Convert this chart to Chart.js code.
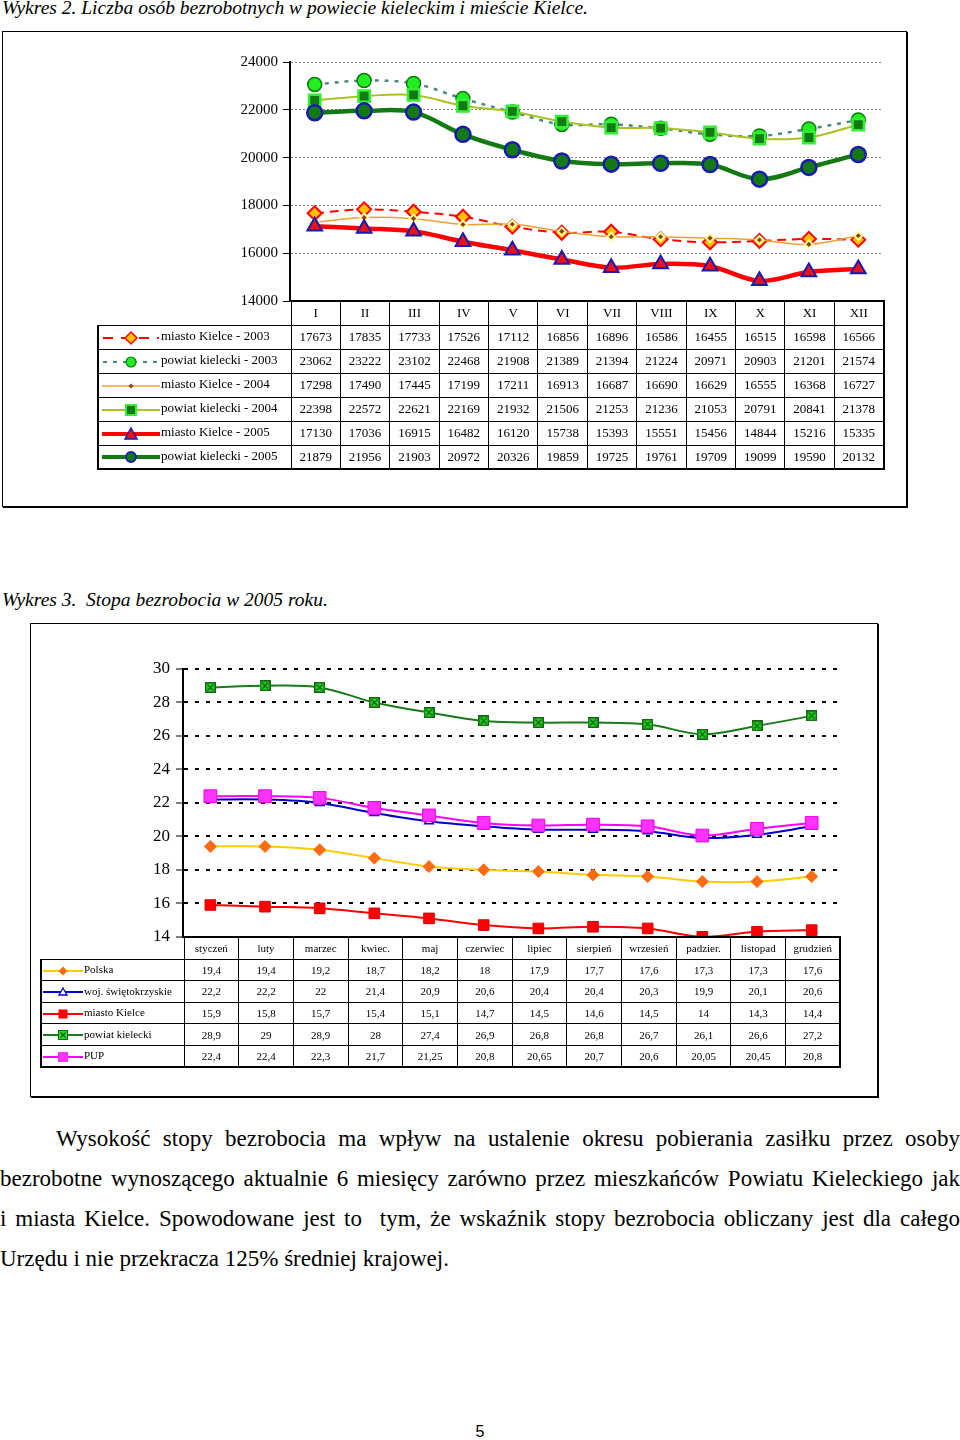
<!DOCTYPE html>
<html lang="pl">
<head>
<meta charset="utf-8">
<title>Wykres 2 i 3</title>
<script src="https://cdn.jsdelivr.net/npm/chart.js@4.4.1/dist/chart.umd.min.js"></script>
<style>
  body { margin: 0; background: #fff; color: #000; font-family: "Liberation Serif", "Times New Roman", serif; }
  #page { position: relative; width: 960px; height: 1440px; overflow: hidden; }
  .abs { position: absolute; }
  .caption { font-style: italic; font-size: 19.5px; line-height: 20px; white-space: nowrap; }
  .frame { border: 1px solid #000; box-shadow: 1px 1px 0 #000; box-sizing: border-box; }
  table.data { border-collapse: collapse; table-layout: fixed; }
  table.data td { border: 1px solid #000; padding: 0; text-align: center; white-space: nowrap; overflow: hidden; background: #fff; }
  table.data td.blank { border: none; background: transparent; }
  table.data td.leg { text-align: left; border-left-width: 2px; }
  table.data td:last-child { border-right-width: 2px; }
  table.data tr:last-child td { border-bottom-width: 2px; }
  table.data tr.head td { border-top-width: 2px; }
  table.data svg { vertical-align: middle; }
  #t1 { left: 97px; top: 300px; font-size: 13px; }
  #t1 tr { height: 24px; }
  #t1 td.leg { padding-left: 2px; }
  #t2 { left: 40px; top: 936px; font-size: 11px; }
  #t2 tr { height: 21.6px; }
  #t2 tr.head { height: 22px; }
  #para { left: 0; top: 1119px; width: 960px; font-size: 23px; }
  #para .ln { height: 40px; line-height: 40px; text-align: justify; text-align-last: justify; }
  #para .ln.last { text-align-last: left; }
  #pageno { left: 0; width: 960px; top: 1423px; text-align: center; font: 16px/18px "Liberation Sans", Arial, sans-serif; }
</style>
</head>
<body>
<div id="page">
  <div class="abs caption" style="left:2px; top:-2px;">Wykres 2. Liczba osób bezrobotnych w powiecie kieleckim i mieście Kielce.</div>
  <div class="abs frame" style="left:2px; top:31px; width:905px; height:476px;"></div>
  <canvas id="chart1" class="abs" width="700" height="270" style="left:200px; top:45px; width:700px; height:270px;"></canvas>
  <table id="t1" class="abs data"></table>

  <div class="abs caption" style="left:2px; top:590px;">Wykres 3.&nbsp; Stopa bezrobocia w 2005 roku.</div>
  <div class="abs frame" style="left:30px; top:623px; width:848px; height:474px;"></div>
  <canvas id="chart2" class="abs" width="760" height="303" style="left:100px; top:650px; width:760px; height:303px;"></canvas>
  <table id="t2" class="abs data"></table>

  <div id="para" class="abs">
    <div class="ln" style="text-indent:56px;">Wysokość stopy bezrobocia ma wpływ na ustalenie okresu pobierania zasiłku przez osoby</div>
    <div class="ln">bezrobotne wynoszącego aktualnie 6 miesięcy zarówno przez mieszkańców Powiatu Kieleckiego jak</div>
    <div class="ln">i miasta Kielce. Spowodowane jest to&nbsp; tym, że wskaźnik stopy bezrobocia obliczany jest dla całego</div>
    <div class="ln last">Urzędu i nie przekracza 125% średniej krajowej.</div>
  </div>
  <div id="pageno" class="abs">5</div>
</div>

<script>
// --- Wykres 2: liczba bezrobotnych ---
const months = ['I', 'II', 'III', 'IV', 'V', 'VI', 'VII', 'VIII', 'IX', 'X', 'XI', 'XII'];
const yTicks1 = [14000, 16000, 18000, 20000, 22000, 24000];
const kielce2003 = [17673, 17835, 17733, 17526, 17112, 16856, 16896, 16586, 16455, 16515, 16598, 16566];
const powiat2003 = [23062, 23222, 23102, 22468, 21908, 21389, 21394, 21224, 20971, 20903, 21201, 21574];
const kielce2004 = [17298, 17490, 17445, 17199, 17211, 16913, 16687, 16690, 16629, 16555, 16368, 16727];
const powiat2004 = [22398, 22572, 22621, 22169, 21932, 21506, 21253, 21236, 21053, 20791, 20841, 21378];
const kielce2005 = [17130, 17036, 16915, 16482, 16120, 15738, 15393, 15551, 15456, 14844, 15216, 15335];
const powiat2005 = [21879, 21956, 21903, 20972, 20326, 19859, 19725, 19761, 19709, 19099, 19590, 20132];
const names1 = ['miasto Kielce - 2003', 'powiat kielecki - 2003', 'miasto Kielce - 2004',
                'powiat kielecki - 2004', 'miasto Kielce - 2005', 'powiat kielecki - 2005'];

// --- Wykres 3: stopa bezrobocia 2005 ---
const months2 = ['styczeń', 'luty', 'marzec', 'kwiec.', 'maj', 'czerwiec', 'lipiec', 'sierpień',
                 'wrzesień', 'padzier.', 'listopad', 'grudzień'];
const yTicks2 = [14, 16, 18, 20, 22, 24, 26, 28, 30];
const polska = [19.4, 19.4, 19.2, 18.7, 18.2, 18, 17.9, 17.7, 17.6, 17.3, 17.3, 17.6];
const wojSwk = [22.2, 22.2, 22, 21.4, 20.9, 20.6, 20.4, 20.4, 20.3, 19.9, 20.1, 20.6];
const kielce = [15.9, 15.8, 15.7, 15.4, 15.1, 14.7, 14.5, 14.6, 14.5, 14, 14.3, 14.4];
const powiat = [28.9, 29, 28.9, 28, 27.4, 26.9, 26.8, 26.8, 26.7, 26.1, 26.6, 27.2];
const pup = [22.4, 22.4, 22.3, 21.7, 21.25, 20.8, 20.65, 20.7, 20.6, 20.05, 20.45, 20.8];
const names2 = ['Polska', 'woj. świętokrzyskie', 'miasto Kielce', 'powiat kielecki', 'PUP'];

// marker: green square with a dark cross
function crossSquare() {
  const c = document.createElement('canvas');
  c.width = 11; c.height = 11;
  const g = c.getContext('2d');
  g.fillStyle = '#22dd22';
  g.fillRect(0, 0, 11, 11);
  g.strokeStyle = '#146414';
  g.lineWidth = 1.5;
  g.strokeRect(0.75, 0.75, 9.5, 9.5);
  g.beginPath();
  g.moveTo(2.5, 2.5); g.lineTo(8.5, 8.5);
  g.moveTo(8.5, 2.5); g.lineTo(2.5, 8.5);
  g.stroke();
  return c;
}

const style1 = [
  {borderColor: '#ff0000', borderWidth: 2, borderDash: [9, 6], pointStyle: 'rectRot', pointRadius: 7,
   pointBackgroundColor: '#ffc000', pointBorderColor: '#ff0000', pointBorderWidth: 2},
  {borderColor: '#4d8585', borderWidth: 2.5, borderDash: [4, 6], pointStyle: 'circle', pointRadius: 7,
   pointBackgroundColor: '#22ee22', pointBorderColor: '#0a7a0a', pointBorderWidth: 1.5},
  {borderColor: '#f0a030', borderWidth: 1.5, pointStyle: 'rectRot', pointRadius: 4,
   pointBackgroundColor: '#8b4513', pointBorderColor: '#ffffa0', pointBorderWidth: 2},
  {borderColor: '#a8c420', borderWidth: 2, pointStyle: 'rect', pointRadius: 8,
   pointBackgroundColor: '#137a13', pointBorderColor: '#33ee33', pointBorderWidth: 2.5},
  {borderColor: '#ff0000', borderWidth: 4.5, pointStyle: 'triangle', pointRadius: 8.5,
   pointBackgroundColor: '#ee1111', pointBorderColor: '#1a1ab0', pointBorderWidth: 2},
  {borderColor: '#137a13', borderWidth: 4.5, pointStyle: 'circle', pointRadius: 7.5,
   pointBackgroundColor: '#137a13', pointBorderColor: '#1a1ab0', pointBorderWidth: 2.5}
];

const style2 = [
  {borderColor: '#ffcc00', borderWidth: 2, pointStyle: 'rectRot', pointRadius: 6,
   pointBackgroundColor: '#ff6a13', pointBorderColor: '#ff6a13', pointBorderWidth: 1},
  {borderColor: '#0000cc', borderWidth: 2, pointStyle: 'triangle', pointRadius: 5,
   pointBackgroundColor: '#ffffff', pointBorderColor: '#0000cc', pointBorderWidth: 1.5},
  {borderColor: '#ff0000', borderWidth: 2, pointStyle: 'rect', pointRadius: 7.5,
   pointBackgroundColor: '#ff0000', pointBorderColor: '#dd0000', pointBorderWidth: 1},
  {borderColor: '#1a7a1a', borderWidth: 2, pointStyle: crossSquare(), pointRadius: 6},
  {borderColor: '#ff00ff', borderWidth: 2, pointStyle: 'rect', pointRadius: 9,
   pointBackgroundColor: '#ff33ff', pointBorderColor: '#ee00ee', pointBorderWidth: 1}
];

// legend swatches for the table rows
const swatch1 = [
  '<svg width="60" height="16"><line x1="2" y1="8" x2="58" y2="8" stroke="#f00" stroke-width="2" stroke-dasharray="10 8"/><path d="M30 2L36 8L30 14L24 8Z" fill="#ffc000" stroke="#f00" stroke-width="1.5"/></svg>',
  '<svg width="60" height="16"><line x1="2" y1="8" x2="58" y2="8" stroke="#4d8585" stroke-width="2" stroke-dasharray="4 6"/><circle cx="30" cy="8" r="5" fill="#22ee22" stroke="#0a7a0a" stroke-width="1.2"/></svg>',
  '<svg width="60" height="16"><line x1="1" y1="8" x2="59" y2="8" stroke="#f0a030" stroke-width="1.5"/><path d="M30 5.5L32.5 8L30 10.5L27.5 8Z" fill="#8b4513"/></svg>',
  '<svg width="60" height="16"><line x1="1" y1="8" x2="59" y2="8" stroke="#a8c420" stroke-width="2"/><rect x="25" y="3" width="10" height="10" fill="#137a13" stroke="#33ee33" stroke-width="2"/></svg>',
  '<svg width="60" height="16"><line x1="1" y1="8" x2="59" y2="8" stroke="#f00" stroke-width="4"/><path d="M30 2L36 13L24 13Z" fill="#ee1111" stroke="#1a1ab0" stroke-width="1.5"/></svg>',
  '<svg width="60" height="16"><line x1="1" y1="8" x2="59" y2="8" stroke="#137a13" stroke-width="4"/><circle cx="30" cy="8" r="5" fill="#137a13" stroke="#1a1ab0" stroke-width="1.8"/></svg>'
];
const swatch2 = [
  '<svg width="42" height="12"><line x1="1" y1="6" x2="41" y2="6" stroke="#ffcc00" stroke-width="2"/><path d="M21 1.5L25.5 6L21 10.5L16.5 6Z" fill="#ff6a13"/></svg>',
  '<svg width="42" height="12"><line x1="1" y1="6" x2="41" y2="6" stroke="#0000cc" stroke-width="2"/><path d="M21 2L25 9L17 9Z" fill="#fff" stroke="#0000cc" stroke-width="1.3"/></svg>',
  '<svg width="42" height="12"><line x1="1" y1="6" x2="41" y2="6" stroke="#f00" stroke-width="2"/><rect x="16.5" y="1.5" width="9" height="9" fill="#f00"/></svg>',
  '<svg width="42" height="12"><line x1="1" y1="6" x2="41" y2="6" stroke="#1a7a1a" stroke-width="2"/><rect x="16.5" y="1.5" width="9" height="9" fill="#22dd22" stroke="#146414" stroke-width="1"/><path d="M18.5 3.5L23.5 8.5M23.5 3.5L18.5 8.5" stroke="#146414" stroke-width="1.3"/></svg>',
  '<svg width="42" height="12"><line x1="1" y1="6" x2="41" y2="6" stroke="#ff00ff" stroke-width="2"/><rect x="16" y="1" width="10" height="10" fill="#ff33ff"/></svg>'
];

function buildTable(table, labels, names, seriesData, swatches, legWidth, colWidth, fmt) {
  let html = '<colgroup><col style="width:' + legWidth + 'px">';
  labels.forEach(() => { html += '<col style="width:' + colWidth + 'px">'; });
  html += '</colgroup><tr class="head"><td class="blank"></td>';
  labels.forEach(l => { html += '<td>' + l + '</td>'; });
  html += '</tr>';
  names.forEach((n, i) => {
    html += '<tr><td class="leg">' + swatches[i] + n + '</td>';
    seriesData[i].forEach(v => { html += '<td>' + fmt(v) + '</td>'; });
    html += '</tr>';
  });
  table.innerHTML = html;
  table.style.width = (legWidth + colWidth * labels.length) + 'px';
}

function makeChart(canvas, labels, names, seriesData, styles, ticks, axis) {
  const datasets = names.map((n, i) => Object.assign({
    label: n,
    data: seriesData[i],
    tension: 0.35,
    fill: false,
    order: names.length - i
  }, styles[i]));
  return new Chart(canvas, {
    type: 'line',
    data: {labels: labels, datasets: datasets},
    options: {
      responsive: false,
      animation: false,
      events: [],
      layout: {padding: axis.padding},
      plugins: {legend: {display: false}, tooltip: {enabled: false}},
      scales: {
        x: {display: false, offset: true},
        y: {
          min: ticks[0],
          max: ticks[ticks.length - 1],
          afterFit: scale => { scale.width = axis.width; },
          ticks: {
            stepSize: ticks[1] - ticks[0],
            color: '#000',
            padding: axis.tickPadding,
            font: {family: '"Liberation Serif", serif', size: axis.fontSize},
            callback: v => String(v)
          },
          grid: {color: axis.gridColor, lineWidth: axis.gridWidth, tickColor: '#000', tickWidth: 1, tickLength: 7},
          border: {color: '#000', width: 2, dash: axis.gridDash}
        }
      }
    }
  });
}

buildTable(document.getElementById('t1'), months, names1,
  [kielce2003, powiat2003, kielce2004, powiat2004, kielce2005, powiat2005],
  swatch1, 193, 49.4, v => String(v));

buildTable(document.getElementById('t2'), months2, names2,
  [polska, wojSwk, kielce, powiat, pup],
  swatch2, 143, 54.7, v => String(v).replace('.', ','));

makeChart(document.getElementById('chart1'), months, names1,
  [kielce2003, powiat2003, kielce2004, powiat2004, kielce2005, powiat2005],
  style1, yTicks1,
  {padding: {top: 17, bottom: 5, right: 17, left: 0}, width: 90, tickPadding: 5, fontSize: 15,
   gridColor: '#808080', gridWidth: 1, gridDash: [2, 2]});

makeChart(document.getElementById('chart2'), months2, names2,
  [polska, wojSwk, kielce, powiat, pup],
  style2, yTicks2,
  {padding: {top: 19, bottom: 3, right: 21, left: 0}, width: 83, tickPadding: 6, fontSize: 17,
   gridColor: '#000', gridWidth: 2, gridDash: [4, 7]});
</script>
</body>
</html>
